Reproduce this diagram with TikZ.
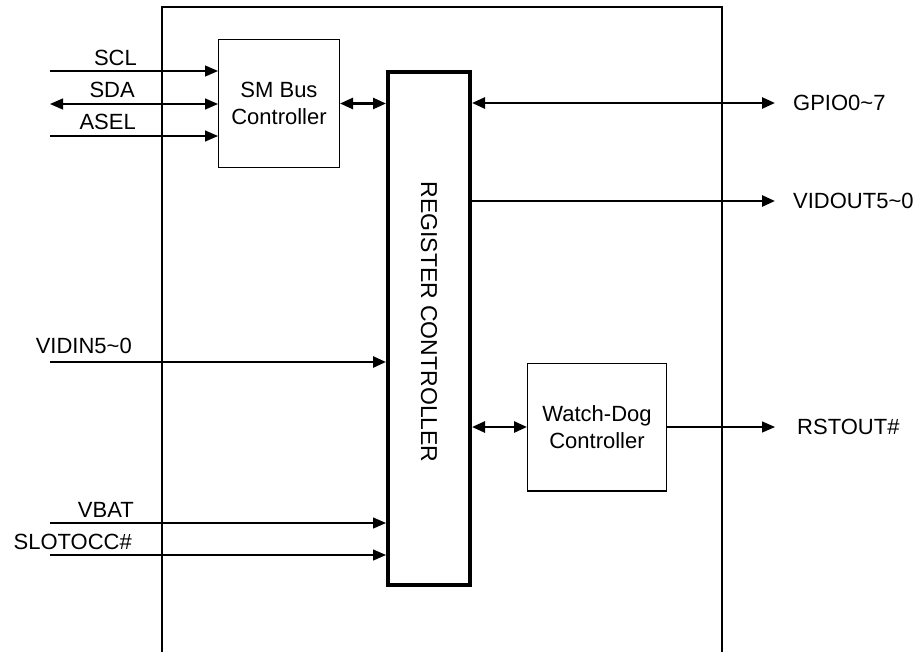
\documentclass[tikz,border=0pt]{standalone}
\usepackage{fontspec}
\setmainfont{Liberation Sans}
\usetikzlibrary{arrows.meta, positioning}

\begin{document}
\begin{tikzpicture}[
    x = 1pt, y = -1pt,
    >= {Triangle[length=13pt, width=11pt]},
    font = \fontsize{22}{27}\selectfont,
    %% ── node styles ──────────────────────────────────────────
    blk/.style    = {draw, line width=1.3pt, align=center, inner sep=0pt},
    regbox/.style = {draw, line width=4pt, inner sep=0pt},
    lbl/.style    = {inner sep=0pt},
    sig/.style    = {->, line width=1.3pt},
    bus/.style    = {->, line width=2.6pt}
]
\useasboundingbox (0,0) rectangle (924,651);

%% ── Chip outline ─────────────────────────────────────────────
\draw[line width=2pt] (162,660) -- (162,7) -- (722,7) -- (722,660);

%% ── Blocks ───────────────────────────────────────────────────
\node[blk, minimum width=120.7pt, minimum height=127.7pt] (smbus) at (279,103.5)
    {SM Bus\\Controller};
\node[regbox, minimum width=82pt, minimum height=513pt] (reg) at (429,328.5) {};
\node[lbl, rotate=-90, font=\fontsize{23}{27}\selectfont] (reglbl) at (429,322)
    {REGISTER CONTROLLER};
\node[blk, minimum width=138.7pt, minimum height=127.7pt] (wd) at (597,427)
    {Watch-Dog\\Controller};

%% ── Pin ends ─────────────────────────────────────────────────
\coordinate (scl)    at (50,71);
\coordinate (sda)    at (50,104);
\coordinate (asel)   at (50,136);
\coordinate (vidin)  at (50,362);
\coordinate (vbat)   at (50,523);
\coordinate (slot)   at (50,555);
\coordinate (gpio)   at (775,103);
\coordinate (vidout) at (775,201);
\coordinate (rst)    at (775,427);

%% ── Pin labels ───────────────────────────────────────────────
\node[lbl, anchor=base east] (scllbl)   at (137,65)  {SCL};
\node[lbl, anchor=base east] (sdalbl)   at (135,97)  {SDA};
\node[lbl, anchor=base east] (asellbl)  at (136,129) {ASEL};
\node[lbl, anchor=base east] (vidinlbl) at (132,353) {VIDIN5\textasciitilde0};
\node[lbl, anchor=base east] (vbatlbl)  at (134,517) {VBAT};
\node[lbl, anchor=base east] (slotlbl)  at (132,549) {SLOTOCC\#};
\node[lbl, anchor=west] (gpiolbl)   at (793,103) {GPIO0\textasciitilde7};
\node[lbl, anchor=west] (vidoutlbl) at (793,201) {VIDOUT5\textasciitilde0};
\node[lbl, anchor=west] (rstlbl)    at (797,427) {RSTOUT\#};

%% ── Arrows: SM bus side ──────────────────────────────────────
\draw[sig]     (scl)  -- (scl -| smbus.west);
\draw[sig, <->] (sda) -- (sda -| smbus.west);
\draw[sig]     (asel) -- (asel -| smbus.west);
\draw[bus, <->] (smbus.east) -- (smbus.east -| reg.west);

%% ── Arrows: register controller ──────────────────────────────
\draw[bus, <->] (gpio -| reg.east) -- (gpio);
\draw[bus]      (vidout -| reg.east) -- (vidout);
\draw[bus]      (vidin) -- (vidin -| reg.west);
\draw[sig]      (vbat)  -- (vbat -| reg.west);
\draw[sig]      (slot)  -- (slot -| reg.west);

%% ── Arrows: watch-dog ────────────────────────────────────────
\draw[bus, <->] (wd.west -| reg.east) -- (wd.west);
\draw[sig]      (wd.east) -- (wd.east -| rst);

\end{tikzpicture}
\end{document}
